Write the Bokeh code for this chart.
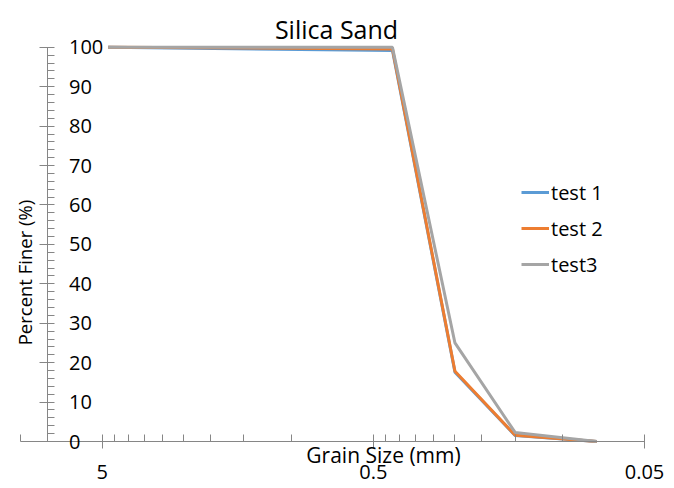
import math
from bokeh.plotting import figure
from bokeh.models import Range1d, FixedTicker, Label, Legend, LegendItem
from bokeh.embed import file_html
from bokeh.resources import INLINE

# ---- data ----
grain_size_mm = [4.75, 0.425, 0.25, 0.15, 0.075]
test1 = [100, 99.2, 17.6, 1.5, 0]
test2 = [100, 99.6, 17.8, 1.6, 0]
test3 = [100, 100, 25.0, 2.3, 0]
series_names = ["test 1", "test 2", "test3"]
series_colors = ["#5B9BD5", "#ED7D31", "#A5A5A5"]

x_major_ticks = [5, 0.5, 0.05]
x_minor_ticks = [10, 4.5, 4, 3.5, 3, 2.5, 2, 1.5, 1,
                 0.45, 0.4, 0.35, 0.3, 0.25, 0.2, 0.15, 0.1]
y_major_ticks = [0, 10, 20, 30, 40, 50, 60, 70, 80, 90, 100]
y_minor_ticks = [v for v in range(0, 101, 2) if v % 10 != 0]

FONT = "Open Sans"
W, H = 674, 488

# screen geometry of the reference (pixels)
x_left_px, x_right_px = 20, 644       # where 10 and 0.05 sit
y0_px, y100_px = 441, 46.8            # where 0 and 100 sit
ppd = (x_right_px - x_left_px) / math.log10(10 / 0.05)   # px per decade
ppu = (y0_px - y100_px) / 100.0                            # px per percent

def xdata(px):
    return 10 / 10 ** ((px - x_left_px) / ppd)

def ydata(py):
    return (y0_px - py) / ppu

p = figure(width=W, height=H, output_backend="svg", toolbar_location=None,
           x_axis_type="log", y_axis_location="right",
           x_range=Range1d(xdata(0), xdata(W)),
           y_range=Range1d(ydata(H), ydata(0)),
           min_border=0, min_border_left=0, min_border_right=0,
           min_border_top=0, min_border_bottom=0)
p.outline_line_color = None
p.xgrid.visible = False
p.ygrid.visible = False
p.background_fill_color = "white"
p.border_fill_color = "white"

axis_color = "#868686"

# x axis (log, reversed) fixed at y = 0
xa = p.xaxis[0]
xa.fixed_location = 0
xa.bounds = (0.05, 10)
xa.ticker = FixedTicker(ticks=x_major_ticks, minor_ticks=x_minor_ticks)
xa.major_label_overrides = {5: "5", 0.5: "0.5", 0.05: "0.05"}
xa.axis_line_color = axis_color
xa.major_tick_line_color = axis_color
xa.minor_tick_line_color = axis_color
xa.major_tick_in = 7
xa.major_tick_out = 7
xa.minor_tick_in = 7
xa.minor_tick_out = 0
xa.major_label_standoff = 16
xa.major_label_text_font = FONT
xa.major_label_text_font_size = "20px"
xa.major_label_text_color = "black"

# y axis fixed at x ~ 8, labels to its right
ya = p.yaxis[0]
ya.fixed_location = xdata(46.5)
ya.bounds = (0, 100)
ya.ticker = FixedTicker(ticks=y_major_ticks, minor_ticks=y_minor_ticks)
ya.axis_line_color = axis_color
ya.major_tick_line_color = axis_color
ya.minor_tick_line_color = axis_color
ya.major_tick_in = 8
ya.major_tick_out = 7
ya.minor_tick_in = 0
ya.minor_tick_out = 7
ya.major_label_standoff = 15
ya.major_label_text_font = FONT
ya.major_label_text_font_size = "20px"
ya.major_label_text_color = "black"

# lines
renderers = []
for ys, name, col in zip([test1, test2, test3], series_names, series_colors):
    r = p.line(grain_size_mm, ys, line_color=col, line_width=3)
    renderers.append(r)

legend = Legend(items=[LegendItem(label=n, renderers=[r]) for n, r in zip(series_names, renderers)],
                location=(521, H - 279), orientation="vertical",
                label_text_font=FONT, label_text_font_size="20px",
                label_text_color="black",
                glyph_width=28, glyph_height=30, label_standoff=2,
                spacing=6, padding=0, margin=0,
                border_line_color=None, background_fill_alpha=0)
p.add_layout(legend)

# titles
p.add_layout(Label(x=xdata(336), y=ydata(28), text="Silica Sand",
                   text_font=FONT, text_font_size="25px", text_color="black",
                   text_align="center", text_baseline="alphabetic"))
p.add_layout(Label(x=xdata(383), y=ydata(454), text="Grain Size (mm)",
                   text_font=FONT, text_font_size="21px", text_color="black",
                   text_align="center", text_baseline="alphabetic"))
p.add_layout(Label(x=xdata(24), y=ydata(272), text="Percent Finer (%)",
                   angle=math.pi / 2,
                   text_font=FONT, text_font_size="18.5px", text_color="black",
                   text_align="center", text_baseline="middle"))

open("out.html", "w").write(file_html(p, INLINE))
